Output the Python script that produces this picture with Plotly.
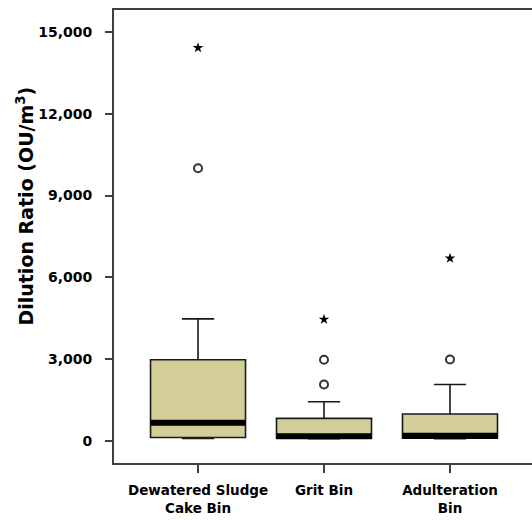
import plotly.graph_objects as go

categories = ["Dewatered Sludge<br>Cake Bin", "Grit Bin", "Adulteration<br>Bin"]
q1 = [130, 100, 100]
median = [670, 170, 195]
q3 = [2980, 830, 990]
lower_fence = [90, 85, 85]
upper_fence = [4480, 1440, 2070]
# outliers: (category index, value)
circle_x = [0, 1, 1, 2]
circle_y = [10000, 2070, 2980, 2990]
star_x = [0, 1, 2]
star_y = [14420, 4460, 6700]
y_ticks = [0, 3000, 6000, 9000, 12000, 15000]

fill = "#D3CE98"
box_w = 0.754
font_fam = "DejaVu Sans"

fig = go.Figure()
for i in range(len(categories)):
    fig.add_trace(go.Box(
        x=[i], q1=[q1[i]], median=[median[i]], q3=[q3[i]],
        lowerfence=[lower_fence[i]], upperfence=[upper_fence[i]],
        width=box_w, whiskerwidth=0.34, boxpoints=False,
        fillcolor=fill, line=dict(color="#1a1a1a", width=1.6),
        showlegend=False, hoverinfo="skip"))
    fig.add_trace(go.Scatter(
        x=[i - box_w / 2, i + box_w / 2], y=[median[i], median[i]],
        mode="lines", line=dict(color="black", width=6),
        showlegend=False, hoverinfo="skip"))

fig.add_trace(go.Scatter(
    x=circle_x, y=circle_y, mode="markers",
    marker=dict(symbol="circle-open", size=8, color="#333333", line=dict(width=2)),
    showlegend=False, hoverinfo="skip"))
fig.add_trace(go.Scatter(
    x=star_x, y=star_y, mode="markers",
    marker=dict(symbol="star", size=8, color="black"),
    showlegend=False, hoverinfo="skip"))

fig.update_layout(
    width=532, height=520,
    margin=dict(l=114, r=0, t=10, b=57),
    plot_bgcolor="white", paper_bgcolor="white",
    font=dict(family=font_fam, color="black"),
    xaxis=dict(
        range=[-0.667, 2.651], tickvals=[0, 1, 2], ticktext=categories,
        showline=True, mirror=True, linecolor="#404040", linewidth=2,
        ticks="outside", ticklen=8, tickcolor="#404040", tickwidth=1.5,
        ticklabelstandoff=6,
        tickfont=dict(size=13.5, family=font_fam, weight="bold"),
        showgrid=False, zeroline=False),
    yaxis=dict(
        range=[-807, 15805], tickvals=y_ticks, tickformat=",d",
        showline=True, mirror=False, linecolor="#404040", linewidth=2,
        ticks="outside", ticklen=7, tickcolor="#404040", tickwidth=1.5,
        ticklabelstandoff=10,
        tickfont=dict(size=14, family=font_fam, weight="bold"),
        showgrid=False, zeroline=False),
    annotations=[dict(
        text="Dilution Ratio (OU/m<sup>3</sup>)", textangle=-90,
        xref="paper", yref="paper", x=-0.212, y=0.567,
        xanchor="center", yanchor="middle", showarrow=False,
        font=dict(size=19, family=font_fam, weight="bold", color="black"))],
)

fig.write_html("out.html")
